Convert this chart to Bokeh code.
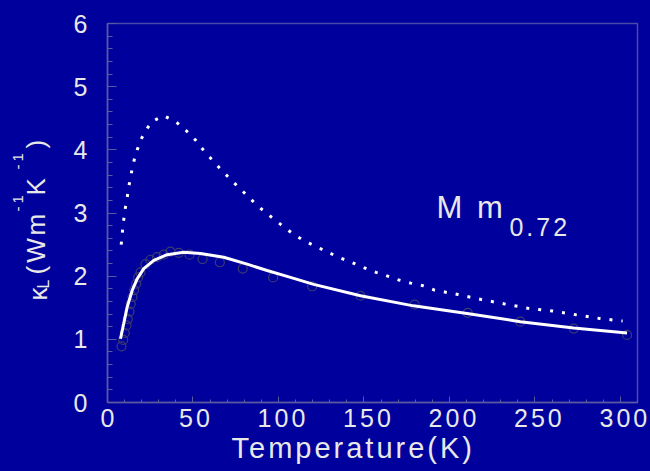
from math import pi
from bokeh.plotting import figure
from bokeh.layouts import row
from bokeh.models import Label, FixedTicker, InlineStyleSheet, Range1d, Title
from bokeh.embed import file_html
from bokeh.resources import INLINE

# ---------------- data ----------------
# dotted (upper) calculated curve
T_dot = [8.0, 8.6, 9.0, 9.8, 10.5, 11.5, 12.3, 13.5, 14.4, 15.8, 17.4, 19.5, 22.2, 26.1,
         32.9, 40.2, 45.8, 51.3, 56.0, 60.6, 65.3, 72.0, 80.0, 87.9, 94.7, 101.3, 108.0,
         115.0, 122.0, 128.8, 135.9, 142.7, 149.5, 157.1, 163.9, 170.3, 177.4, 184.4,
         191.2, 204.9, 218.7, 232.3, 246.2, 260.4, 273.9, 287.9, 301.3]
k_dot = [2.50, 2.65, 2.80, 2.95, 3.09, 3.24, 3.40, 3.56, 3.70, 3.86, 4.00, 4.16, 4.30, 4.45,
         4.54, 4.44, 4.31, 4.16, 4.00, 3.86, 3.72, 3.53, 3.32, 3.11, 2.96, 2.82, 2.68,
         2.56, 2.47, 2.38, 2.29, 2.22, 2.14, 2.06, 2.00, 1.94, 1.89, 1.85,
         1.78, 1.71, 1.63, 1.56, 1.49, 1.45, 1.39, 1.33, 1.29]

# solid fitted curve
T_fit = [7.6, 9.5, 11.5, 14.4, 17.4, 21.2, 27.1, 34.9, 44.6, 54.4, 68.0, 81.7, 93.4,
         107.0, 120.6, 148.0, 179.0, 210.3, 241.5, 272.7, 303.9]
k_fit = [1.01, 1.25, 1.51, 1.77, 1.96, 2.12, 2.25, 2.34, 2.38, 2.36, 2.30, 2.19, 2.09,
         1.98, 1.87, 1.69, 1.53, 1.41, 1.28, 1.18, 1.10]

# experimental points (open circles)
T_exp = [8.2, 9.2, 10.1, 11.1, 11.9, 12.9, 13.6, 14.6, 15.6, 16.8, 17.9, 19.3, 22.2, 25.1,
         29.0, 32.9, 36.8, 41.7, 48.0, 55.6, 65.7, 79.1, 96.9, 119.7, 148.0, 179.7, 210.7,
         241.5, 272.7, 303.9]
k_exp = [0.89, 0.99, 1.10, 1.22, 1.32, 1.44, 1.56, 1.67, 1.78, 1.88, 1.98, 2.06, 2.19, 2.26,
         2.30, 2.34, 2.39, 2.37, 2.34, 2.27, 2.22, 2.12, 1.98, 1.84, 1.69, 1.55, 1.42,
         1.28, 1.17, 1.07]

x_ticks = [0, 50, 100, 150, 200, 250, 300]
x_minor = [0, 10, 20, 30, 40, 50, 60, 70, 80, 90, 100, 110, 120, 130, 140, 150, 160, 170,
           180, 190, 200, 210, 220, 230, 240, 250, 260, 270, 280, 290, 300, 310]
y_ticks = [0, 1, 2, 3, 4, 5, 6]
y_minor = [0, 0.2, 0.4, 0.6, 0.8, 1.0, 1.2, 1.4, 1.6, 1.8, 2.0, 2.2, 2.4, 2.6, 2.8, 3.0,
           3.2, 3.4, 3.6, 3.8, 4.0, 4.2, 4.4, 4.6, 4.8, 5.0, 5.2, 5.4, 5.6, 5.8, 6.0]

x_title = "Temperature(K)"
sample_main = "M m"
sample_sub = "0.72"

# ---------------- styling ----------------
BG = "#00009c"
FG = "#e8e8e8"
AX = "#5a5aa0"
FONT = "Liberation Sans"
SPACING = [InlineStyleSheet(css=":host { letter-spacing: 3px; }")]

LEFT_W = 60
H = 471
TOP, BOTTOM = 23, 69          # frame borders (pixels), shared by both panels

# main plot
p = figure(width=650 - LEFT_W, height=H, x_range=(0, 310), y_range=(0, 6),
           output_backend="svg", toolbar_location=None,
           min_border_left=107 - LEFT_W, min_border_right=13,
           min_border_top=TOP, min_border_bottom=BOTTOM)
p.background_fill_color = BG
p.border_fill_color = BG
p.outline_line_color = "#4a4aa8"
p.outline_line_width = 1.5
p.grid.visible = False
p.stylesheets = SPACING

p.xaxis.ticker = FixedTicker(ticks=x_ticks, minor_ticks=x_minor)
p.yaxis.ticker = FixedTicker(ticks=y_ticks, minor_ticks=y_minor)

for ax in (p.xaxis[0], p.yaxis[0]):
    ax.axis_line_color = AX
    ax.axis_line_width = 1.5
    ax.major_tick_line_color = AX
    ax.minor_tick_line_color = AX
    ax.major_tick_out = 0
    ax.minor_tick_out = 0
    ax.major_label_text_color = FG
    ax.major_label_text_font = FONT
    ax.major_label_text_font_size = "25px"

p.xaxis.major_tick_in = 6
p.xaxis.minor_tick_in = 3
p.yaxis.major_tick_in = 9
p.yaxis.minor_tick_in = 5
p.xaxis.major_label_standoff = 6
p.yaxis.major_label_standoff = 20

# x-axis title placed as a title below the axis, offset to match the reference
p.add_layout(Title(text=x_title, align="left", offset=124, standoff=0,
                   text_font=FONT, text_font_size="29px", text_font_style="normal",
                   text_color=FG), "below")

# glyphs
p.scatter(T_exp, k_exp, marker="circle", size=9, fill_color=None,
          line_color="#3c3c70", line_width=1.2)
p.line(T_fit, k_fit, line_color="white", line_width=3)
p.line(T_dot, k_dot, line_color="white", line_width=3, line_dash="3 9")

def lab(fig, x, y, t, size, angle=0.0):
    fig.add_layout(Label(x=x, y=y, text=t, angle=angle, text_font=FONT,
                         text_font_size=size, text_color=FG,
                         text_align="left", text_baseline="alphabetic"))

lab(p, 192.4, 3.085, sample_main, "31px")
lab(p, 235.1, 2.785, sample_sub, "25px")

# narrow strip on the left carrying the rotated y-axis title; its frame is aligned
# with the main frame, so the range is given in page pixels measured from the bottom
q = figure(width=LEFT_W, height=H, x_range=Range1d(0, LEFT_W),
           y_range=Range1d(BOTTOM, H - TOP),
           output_backend="svg", toolbar_location=None,
           x_axis_type=None, y_axis_type=None,
           min_border_left=0, min_border_right=0,
           min_border_top=TOP, min_border_bottom=BOTTOM)
q.background_fill_color = BG
q.border_fill_color = BG
q.outline_line_color = None
q.grid.visible = False
q.stylesheets = SPACING

# kappa_L (W m^-1 K^-1)
lab(q, 37, H - 300, "κ", "26px", pi / 2)
lab(q, 43, H - 288, "L", "16px", pi / 2)
lab(q, 35, H - 274, "(W", "26px", pi / 2)
lab(q, 35, H - 235, "m", "26px", pi / 2)
lab(q, 17, H - 211, "-1", "15px", pi / 2)
lab(q, 35, H - 195, "K", "26px", pi / 2)
lab(q, 17, H - 169, "-1", "15px", pi / 2)
lab(q, 35, H - 148, ")", "26px", pi / 2)

layout = row(q, p, spacing=0)

html = file_html(layout, INLINE)
html = html.replace("</head>", "<style>html,body{background:%s;}</style></head>" % BG, 1)
open("out.html", "w").write(html)
